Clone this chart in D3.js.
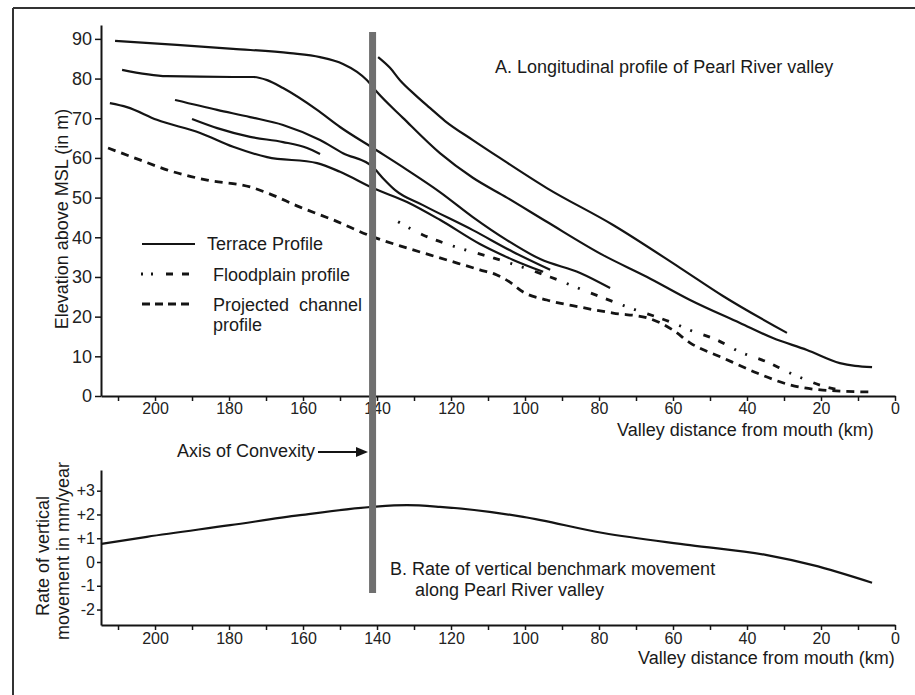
<!DOCTYPE html>
<html><head><meta charset="utf-8">
<script src="https://cdn.jsdelivr.net/npm/d3@7/dist/d3.min.js"></script>
<style>
html,body{margin:0;padding:0;background:#fff;}
svg{display:block;font-family:"Liberation Sans",Arial,sans-serif;}
</style></head>
<body>
<svg id="chart" width="915" height="695"></svg>
<script>
// ---- data (km from mouth, value) ----
const kmTicks = [210,200,190,180,170,160,150,140,130,120,110,100,90,80,70,60,50,40,30,20,10,0];
const elevTicks = [0,10,20,30,40,50,60,70,80,90];
const rateTicks = [3,2,1,0,-1,-2];
const rateTickLabels = ["+3","+2","+1","0","-1","-2"];

const terrace1 = [[210.8,89.5],[194.1,88.5],[178.9,87.5],[163.5,86.4],[155.4,85.4],[149.2,83.7],[145.4,81.7],[142.7,79.6],[140.0,76.6],[133.0,70.1],[123.0,61.2],[114.1,55.0],[104.9,50.0],[94.1,43.9],[78.9,35.5],[67.0,30.0],[55.4,24.2],[41.9,18.4],[33.0,14.6],[23.8,11.6],[14.9,8.3],[10.8,7.6],[6.2,7.3]];
const terrace1b = [[139.7,85.4],[136.5,82.7],[133.8,79.6],[129.7,75.9],[125.7,72.6],[121.6,69.3],[114.1,64.5],[106.8,60.0],[94.1,52.4],[76.2,43.1],[58.1,32.3],[46.5,25.2],[29.2,15.9]];
const terrace2 = [[208.9,82.2],[196.8,80.6],[178.9,80.4],[173.5,80.4],[169.7,79.6],[165.4,77.6],[156.2,72.1],[150.0,67.8],[141.1,62.5],[131.9,57.0],[123.0,51.4],[114.1,45.1],[104.9,39.3],[95.9,34.5],[85.1,31.0],[77.0,27.2]];
const terrace3 = [[212.2,73.8],[207.6,72.8],[199.5,69.6],[187.8,66.3],[178.9,62.8],[169.7,60.2],[156.2,58.7],[150.0,56.5],[141.1,52.4],[131.9,48.9],[123.0,44.4],[112.2,38.3],[103.2,34.3],[95.1,31.3]];
const terrace4 = [[194.6,74.6],[183.2,72.1],[174.3,70.3],[165.4,68.3],[155.4,64.5],[149.2,61.2],[141.1,57.7],[138.4,54.9],[135.1,51.9],[127.6,48.1],[114.1,41.8],[103.2,36.3],[93.2,31.8]];
const terrace5 = [[190.0,69.8],[183.2,67.5],[174.3,65.3],[165.4,64.0],[158.9,62.5],[155.4,61.0]];
const floodplain = [[134.3,43.9],[127.6,40.6],[119.5,37.8],[108.6,34.8],[100.8,32.5],[93.2,30.0],[82.4,26.0],[71.6,22.2],[60.0,18.4],[55.4,16.6],[48.1,14.1],[41.9,11.1],[34.6,8.6],[28.4,5.8],[23.8,4.0],[19.5,2.5],[13.5,1.3]];
const channel = [[212.7,62.5],[204.1,59.5],[196.8,57.0],[185.9,54.4],[174.3,52.7],[169.7,51.2],[160.8,47.6],[151.9,44.4],[141.1,40.1],[131.9,37.3],[123.0,34.8],[112.2,31.8],[107.6,30.5],[104.1,28.7],[100.5,26.2],[94.1,24.2],[85.1,22.4],[76.2,20.9],[67.0,19.7],[60.0,16.6],[55.4,13.4],[46.5,9.6],[37.3,5.8],[28.4,2.8],[19.5,1.5],[6.2,1.0]];
const rateProfile = [[214.6,0.76],[202.2,1.06],[179.7,1.55],[160.8,1.97],[141.1,2.32],[131.9,2.39],[123.0,2.32],[100.5,1.90],[78.9,1.22],[55.4,0.71],[34.6,0.29],[22.2,-0.13],[6.2,-0.87]];
const convexityKm = 141.2;

// ---- drawing ----
const svg = d3.select("#chart");
const ink = "#141414";

// frame
svg.append("line").attr("x1",13).attr("y1",8).attr("x2",915).attr("y2",8).attr("stroke","#333").attr("stroke-width",2);
svg.append("line").attr("x1",13).attr("y1",8).attr("x2",13).attr("y2",695).attr("stroke","#333").attr("stroke-width",2);

const x = d3.scaleLinear().domain([214.6,0]).range([101,895]);
const y = d3.scaleLinear().domain([0,93.5]).range([396,25]);
const y2 = d3.scaleLinear().domain([-2.65,3.87]).range([625,470]);

function styleAxis(g, fs){
  g.selectAll("path.domain").attr("stroke",ink).attr("stroke-width",2);
  g.selectAll(".tick line").attr("stroke",ink).attr("stroke-width",1.5);
  g.selectAll(".tick text").attr("fill","#222").style("font-size",fs+"px").style("font-family","Liberation Sans, Arial, sans-serif");
}

// top panel axes
const xAxisTop = d3.axisBottom(x).tickValues(kmTicks).tickSize(5).tickSizeOuter(0).tickPadding(2)
  .tickFormat(d => d % 20 === 0 ? d : "");
const gx1 = svg.append("g").attr("transform","translate(0,396)").call(xAxisTop);
styleAxis(gx1,16);

const yAxisTop = d3.axisLeft(y).tickValues(elevTicks).tickSize(6).tickSizeOuter(0).tickPadding(3);
const gy1 = svg.append("g").attr("transform","translate(101,0)").call(yAxisTop);
styleAxis(gy1,18);

// lower panel axes
const xAxisBot = d3.axisBottom(x).tickValues(kmTicks).tickSize(5).tickSizeOuter(0).tickPadding(3)
  .tickFormat(d => d % 20 === 0 ? d : "");
const gx2 = svg.append("g").attr("transform","translate(0,625)").call(xAxisBot);
styleAxis(gx2,16);

const yAxisBot = d3.axisLeft(y2).tickValues(rateTicks).tickSize(4).tickSizeOuter(0).tickPadding(2)
  .tickFormat(d => rateTickLabels[rateTicks.indexOf(d)]);
const gy2 = svg.append("g").attr("transform","translate(101,0)").call(yAxisBot);
styleAxis(gy2,16);

// lines
const line = d3.line().x(d => x(d[0])).y(d => y(d[1])).curve(d3.curveMonotoneX);
const line2 = d3.line().x(d => x(d[0])).y(d => y2(d[1])).curve(d3.curveMonotoneX);

[terrace1, terrace1b, terrace2, terrace3, terrace4, terrace5].forEach(s => {
  svg.append("path").attr("d", line(s)).attr("fill","none").attr("stroke",ink).attr("stroke-width",2.2);
});
svg.append("path").attr("d", line(channel)).attr("fill","none").attr("stroke",ink)
  .attr("stroke-width",2.8).attr("stroke-dasharray","8,6");
svg.append("path").attr("d", line(floodplain)).attr("fill","none").attr("stroke",ink)
  .attr("stroke-width",2.8).attr("stroke-dasharray","2,10,2,12,7,9,7,11");

svg.append("path").attr("d", line2(rateProfile)).attr("fill","none").attr("stroke",ink).attr("stroke-width",2.2);

// convexity bar
svg.append("rect").attr("x", x(convexityKm)-3.5).attr("y",32).attr("width",7).attr("height",593-32).attr("fill","#6f6f6f");

// legend
const lg = svg.append("g");
lg.append("line").attr("x1",142).attr("x2",195).attr("y1",244).attr("y2",244).attr("stroke",ink).attr("stroke-width",2.2);
lg.append("line").attr("x1",141).attr("x2",193).attr("y1",274).attr("y2",274).attr("stroke",ink).attr("stroke-width",3)
  .attr("stroke-dasharray","2,8,2,13,7,9,7,20");
lg.append("line").attr("x1",142).attr("x2",194).attr("y1",304).attr("y2",304).attr("stroke",ink).attr("stroke-width",3)
  .attr("stroke-dasharray","8,5");
const txt = (t, xx, yy, anchor) => svg.append("text").attr("x",xx).attr("y",yy).attr("fill","#1a1a1a")
  .style("font-size","18px").attr("text-anchor",anchor||"start").text(t);
txt("Terrace Profile",207,250);
txt("Floodplain profile",213,281);
txt("Projected  channel",213,311).attr("xml:space","preserve").style("white-space","pre");
txt("profile",213,331);

// titles
txt("A. Longitudinal profile of Pearl River valley",495,73);
txt("Valley distance from mouth (km)",617,436);
txt("Valley distance from mouth (km)",638,664);
txt("B. Rate of vertical benchmark movement",390,575);
txt("along Pearl River valley",415,596);
txt("Axis of Convexity",177,457);

// arrow
svg.append("line").attr("x1",318).attr("x2",358).attr("y1",452).attr("y2",452).attr("stroke",ink).attr("stroke-width",2);
svg.append("path").attr("d","M356,447 L368,452 L356,457 Z").attr("fill",ink);

// y-axis titles
svg.append("text").attr("transform","translate(68,219) rotate(-90)").attr("text-anchor","middle")
  .style("font-size","18px").attr("fill","#1a1a1a").text("Elevation above MSL (in m)");
svg.append("text").attr("transform","translate(49,556) rotate(-90)").attr("text-anchor","middle")
  .style("font-size","18px").attr("fill","#1a1a1a").text("Rate of vertical");
svg.append("text").attr("transform","translate(69,551) rotate(-90)").attr("text-anchor","middle")
  .style("font-size","18px").attr("fill","#1a1a1a").text("movement in mm/year");
</script>
</body></html>
